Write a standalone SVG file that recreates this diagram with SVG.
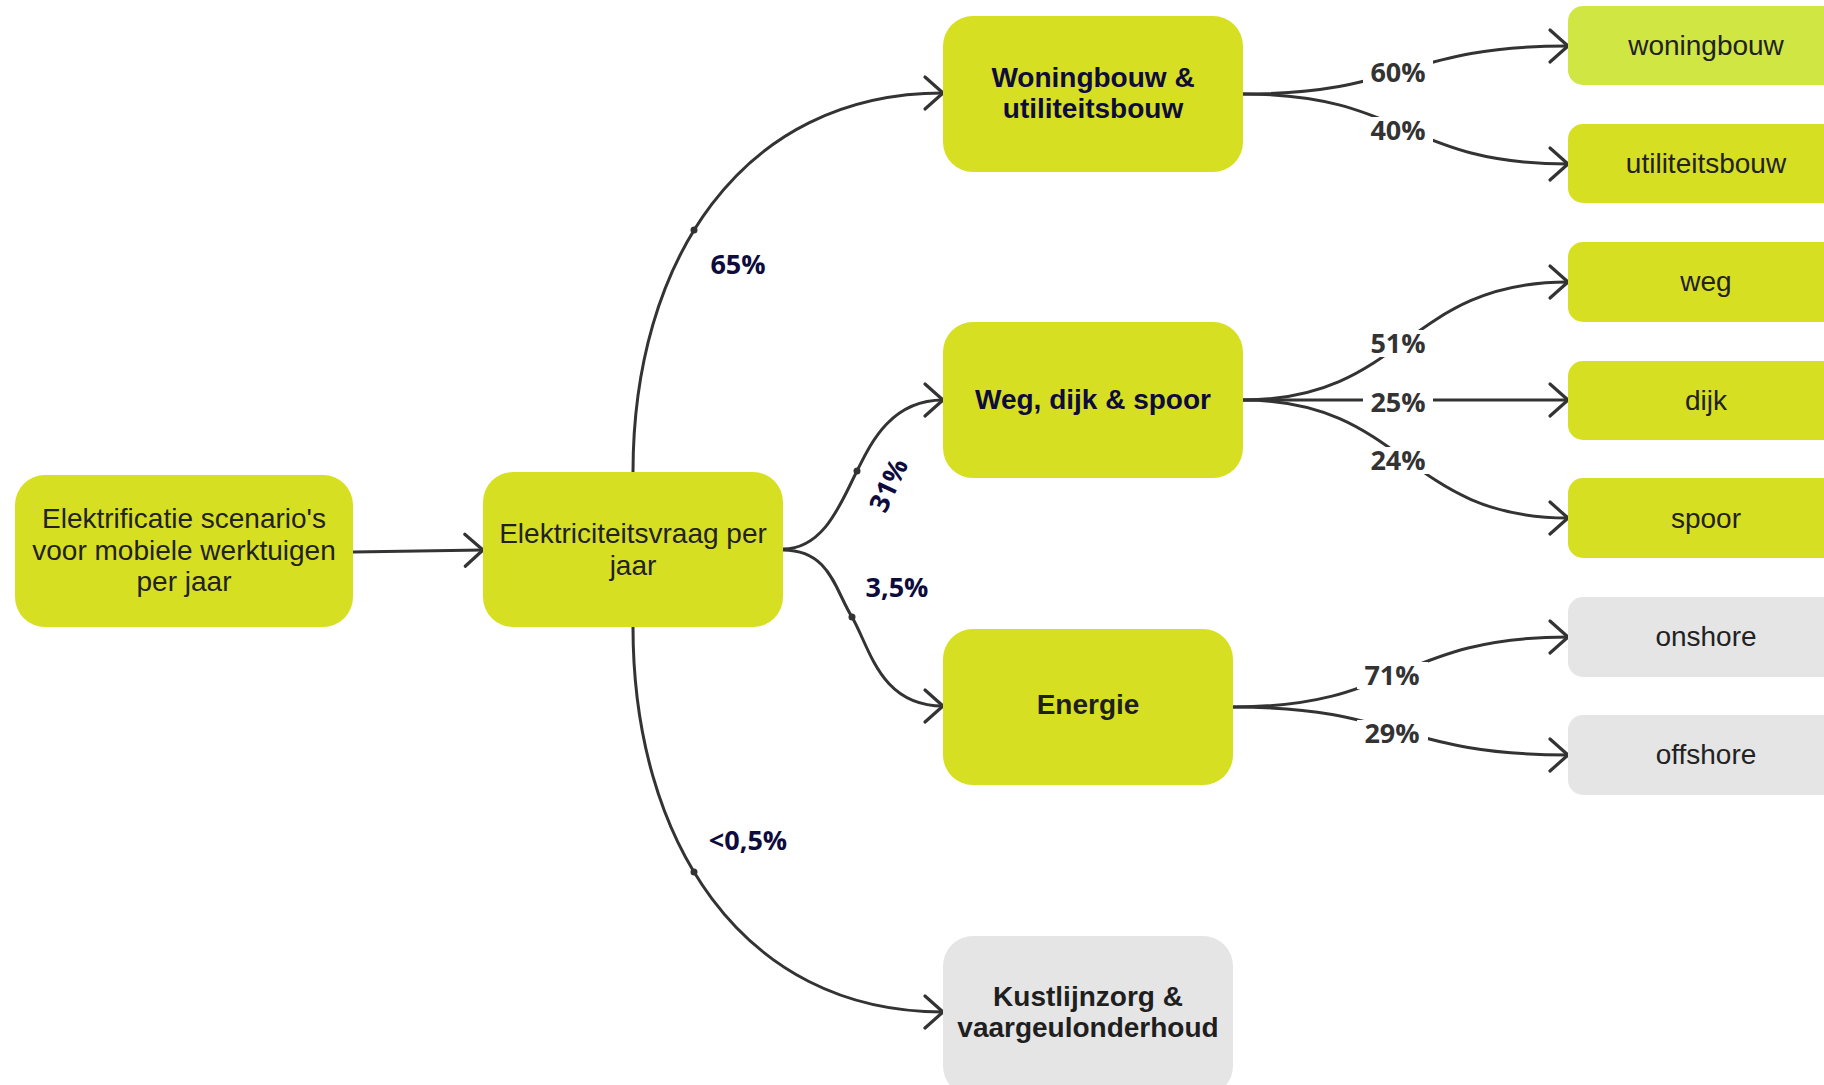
<svg xmlns="http://www.w3.org/2000/svg" width="1824" height="1085" viewBox="0 0 1824 1085">
  <style>
    .box { fill: #d7df22; }
    .leaf { fill: #d7df22; }
    .leaf-light { fill: #cfe643; }
    .grey { fill: #e5e5e5; }
    .t { font-family: "Liberation Sans", Arial, sans-serif; font-size: 28px; fill: #222222; text-anchor: middle; }
    .tb { font-family: "Liberation Sans", Arial, sans-serif; font-size: 28px; font-weight: bold; text-anchor: middle; }
    .navy { fill: #0e0b3d; }
    .dark { fill: #1f1f1f; }
    .conn { fill: none; stroke: #333333; stroke-width: 3; stroke-linecap: round; }
    .arrowed { marker-end: url(#arr); }
    .lbl { font-family: "Open Sans", "Noto Sans", sans-serif; font-size: 27px; font-weight: bold; text-anchor: middle; }
    .lbl-navy { fill: #0e0b3d; }
    .lbl-grey { fill: #333333; }
    .mask { fill: #ffffff; }
    .dot { fill: #333333; }
  </style>
  <defs>
    <marker id="arr" viewBox="-22 -20 26 40" refX="0" refY="0" markerWidth="26" markerHeight="40" markerUnits="userSpaceOnUse" orient="auto">
      <path d="M-18,-16 L0,0 L-18,16" fill="none" stroke="#333333" stroke-width="3.2" stroke-linecap="round" stroke-linejoin="round"/>
    </marker>
  </defs>
  <rect width="1824" height="1085" fill="#ffffff"/>

  <g id="connectors">
    <path class="conn arrowed" d="M353,552 L483,550"/>
    <!-- 65% -->
    <path class="conn arrowed" d="M633,472 C633,263 740,93 943,93"/>
    <!-- <0,5% -->
    <path class="conn arrowed" d="M633,627 C633,838 740,1012 943,1012"/>
    <!-- 31% -->
    <path class="conn arrowed" d="M783,549 C825,549 842,500 857,471 C870,445 890,400 943,400"/>
    <!-- 3,5% -->
    <path class="conn arrowed" d="M783,550 C830,550 835,590 852,617 C870,648 880,706 943,706"/>
    <circle class="dot" cx="694" cy="230" r="3.5"/>
    <circle class="dot" cx="694" cy="872" r="3.5"/>
    <circle class="dot" cx="857" cy="471" r="3.5"/>
    <circle class="dot" cx="852" cy="617" r="3.5"/>

    <!-- right side -->
    <path class="conn arrowed" d="M1243,94 C1405,94 1405,46 1568,46"/>
    <path class="conn arrowed" d="M1243,94 C1405,94 1405,164 1568,164"/>
    <path class="conn arrowed" d="M1243,400 C1405,400 1405,282 1568,282"/>
    <path class="conn arrowed" d="M1243,400 L1568,400"/>
    <path class="conn arrowed" d="M1243,400 C1405,400 1405,518 1568,518"/>
    <path class="conn arrowed" d="M1233,707 C1400,707 1400,637 1568,637"/>
    <path class="conn arrowed" d="M1233,707 C1400,707 1400,755 1568,755"/>

    <rect class="mask" x="1363" y="59" width="70" height="27"/>
    <rect class="mask" x="1363" y="117" width="70" height="27"/>
    <rect class="mask" x="1363" y="330" width="70" height="27"/>
    <rect class="mask" x="1363" y="389" width="70" height="26"/>
    <rect class="mask" x="1363" y="447" width="70" height="27"/>
    <rect class="mask" x="1357" y="662" width="71" height="27"/>
    <rect class="mask" x="1357" y="720" width="71" height="27"/>

    <text class="lbl lbl-navy" x="738" y="274">65%</text>
    <text class="lbl lbl-navy" transform="translate(888,485) rotate(-65)" x="0" y="10">31%</text>
    <text class="lbl lbl-navy" x="897" y="597">3,5%</text>
    <text class="lbl lbl-navy" x="748" y="850">&lt;0,5%</text>
    <text class="lbl lbl-grey" x="1398" y="82">60%</text>
    <text class="lbl lbl-grey" x="1398" y="140">40%</text>
    <text class="lbl lbl-grey" x="1398" y="353">51%</text>
    <text class="lbl lbl-grey" x="1398" y="412">25%</text>
    <text class="lbl lbl-grey" x="1398" y="470">24%</text>
    <text class="lbl lbl-grey" x="1392" y="685">71%</text>
    <text class="lbl lbl-grey" x="1392" y="743">29%</text>
  </g>

  <g id="node-scenario">
    <rect class="box" x="15" y="475" width="338" height="152" rx="30"/>
    <text class="t" x="184" y="528">Elektrificatie scenario's</text>
    <text class="t" x="184" y="560">voor mobiele werktuigen</text>
    <text class="t" x="184" y="591">per jaar</text>
  </g>
  <g id="node-vraag">
    <rect class="box" x="483" y="472" width="300" height="155" rx="30"/>
    <text class="t" x="633" y="543">Elektriciteitsvraag per</text>
    <text class="t" x="633" y="575">jaar</text>
  </g>
  <g id="node-woning-util">
    <rect class="box" x="943" y="16" width="300" height="156" rx="30"/>
    <text class="tb navy" x="1093" y="87">Woningbouw &amp;</text>
    <text class="tb navy" x="1093" y="118">utiliteitsbouw</text>
  </g>
  <g id="node-weg-dijk-spoor">
    <rect class="box" x="943" y="322" width="300" height="156" rx="30"/>
    <text class="tb navy" x="1093" y="409">Weg, dijk &amp; spoor</text>
  </g>
  <g id="node-energie">
    <rect class="box" x="943" y="629" width="290" height="156" rx="30"/>
    <text class="tb dark" x="1088" y="714">Energie</text>
  </g>
  <g id="node-kust">
    <rect class="grey" x="943" y="936" width="290" height="160" rx="30"/>
    <text class="tb dark" x="1088" y="1006">Kustlijnzorg &amp;</text>
    <text class="tb dark" x="1088" y="1037">vaargeulonderhoud</text>
  </g>

  <g id="leaf-woningbouw">
    <rect class="leaf-light" x="1568" y="6" width="276" height="79" rx="15"/>
    <text class="t" x="1706" y="55">woningbouw</text>
  </g>
  <g id="leaf-utiliteitsbouw">
    <rect class="leaf" x="1568" y="124" width="276" height="79" rx="15"/>
    <text class="t" x="1706" y="173">utiliteitsbouw</text>
  </g>
  <g id="leaf-weg">
    <rect class="leaf" x="1568" y="242" width="276" height="80" rx="15"/>
    <text class="t" x="1706" y="291">weg</text>
  </g>
  <g id="leaf-dijk">
    <rect class="leaf" x="1568" y="361" width="276" height="79" rx="15"/>
    <text class="t" x="1706" y="410">dijk</text>
  </g>
  <g id="leaf-spoor">
    <rect class="leaf" x="1568" y="478" width="276" height="80" rx="15"/>
    <text class="t" x="1706" y="528">spoor</text>
  </g>
  <g id="leaf-onshore">
    <rect class="grey" x="1568" y="597" width="276" height="80" rx="15"/>
    <text class="t" x="1706" y="646">onshore</text>
  </g>
  <g id="leaf-offshore">
    <rect class="grey" x="1568" y="715" width="276" height="80" rx="15"/>
    <text class="t" x="1706" y="764">offshore</text>
  </g>
</svg>
